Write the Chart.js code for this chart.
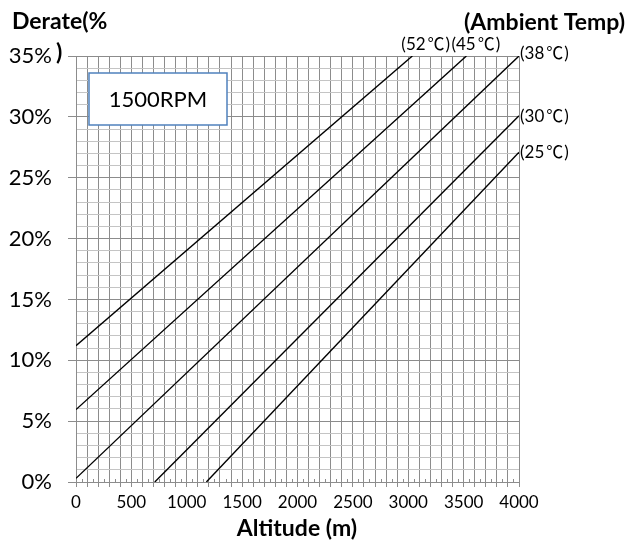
<!DOCTYPE html>
<html>
<head>
<meta charset="utf-8">
<script src="https://cdn.jsdelivr.net/npm/chart.js@4"></script>
<style>
html,body{margin:0;padding:0;background:#fff;}
#wrap{width:627px;height:541px;position:relative;}
</style>
</head>
<body>
<div id="wrap"><canvas id="c" width="627" height="541"></canvas></div>
<script>
// ---- data ----
const tempLabels = ['(52℃)', '(45℃)', '(38℃)', '(30℃)', '(25℃)'];
const startAltitude = [0, 0, 0, 711, 1177];
const startDerate = [11.2, 5.95, 0.3, 0, 0];
const endAltitude = [3037, 3525, 4000, 4000, 4000];
const endDerate = [35, 35, 35, 30.1, 27.1];
const xTickLabels = ['0', '500', '1000', '1500', '2000', '2500', '3000', '3500', '4000'];
const yTickLabels = ['0%', '5%', '10%', '15%', '20%', '25%', '30%', '35%'];
const speedLabel = '1500RPM';
const yTitle = 'Derate(%';
const xTitle = 'Altitude (m)';
const legendTitle = '(Ambient Temp)';

const FONT = "Lato, \"Noto Sans CJK JP\", sans-serif";
const CJK = "\"Noto Sans CJK JP\", \"Noto Sans CJK SC\", sans-serif";

const datasets = tempLabels.map((t, i) => ({
  label: t,
  data: [{x: startAltitude[i], y: startDerate[i]}, {x: endAltitude[i], y: endDerate[i]}],
  borderColor: '#000',
  borderWidth: 1.4,
  pointRadius: 0,
  fill: false,
  tension: 0
}));

function drawTempLabel(ctx, text, x, y) {
  // split "(52℃)" into "(52", "℃", ")" so the degree sign uses the CJK font
  const k = text.indexOf('℃');
  const head = k >= 0 ? text.slice(0, k) : text;
  const deg = k >= 0 ? '℃' : '';
  const tail = k >= 0 ? text.slice(k + 1) : '';
  ctx.font = '17px ' + FONT;
  ctx.fillText(head, x, y);
  let cx = x + ctx.measureText(head).width + 2;
  if (deg) {
    ctx.font = '17px ' + CJK;
    ctx.fillText(deg, cx, y);
    cx += ctx.measureText(deg).width + 1;
  }
  ctx.font = '17px ' + FONT;
  ctx.fillText(tail, cx, y);
}

const annotations = {
  id: 'annotations',
  beforeDatasetsDraw(chart) {
    const ctx = chart.ctx;
    const xs = chart.scales.x;
    const ca = chart.chartArea;
    ctx.save();
    ctx.strokeStyle = '#8c8c8c';
    ctx.lineWidth = 1;
    for (let v = 50; v < 4000; v += 100) {
      const px = Math.round(xs.getPixelForValue(v)) + 0.5;
      ctx.beginPath();
      ctx.moveTo(px, ca.bottom);
      ctx.lineTo(px, ca.bottom - 3);
      ctx.stroke();
    }
    ctx.restore();
  },
  afterDraw(chart) {
    const ctx = chart.ctx;
    const ca = chart.chartArea;
    ctx.save();
    // speed box
    const bx = ca.left + 13, by = ca.top + 17, bw = 138, bh = 52;
    ctx.fillStyle = '#fff';
    ctx.fillRect(bx, by, bw, bh);
    ctx.strokeStyle = '#4f81bd';
    ctx.lineWidth = 1.5;
    ctx.strokeRect(bx, by, bw, bh);
    ctx.fillStyle = '#000';
    ctx.font = '22px ' + FONT;
    ctx.textAlign = 'center';
    ctx.textBaseline = 'middle';
    ctx.fillText(speedLabel, bx + bw / 2, by + bh / 2 + 1);

    // titles
    ctx.textBaseline = 'alphabetic';
    ctx.font = 'bold 23px ' + FONT;
    ctx.textAlign = 'left';
    ctx.fillText(yTitle, 12, 29);
    ctx.fillText(')', 56, 60);
    ctx.textAlign = 'right';
    ctx.fillText(legendTitle, 625, 30);
    ctx.textAlign = 'center';
    ctx.fillText(xTitle, 297, 536);

    // temperature labels at line ends
    ctx.textAlign = 'left';
    const offs = [[-11, -6], [-15, -6], [1, 3], [1, 6], [1, 6]];
    tempLabels.forEach((t, i) => {
      const pt = chart.getDatasetMeta(i).data[1];
      drawTempLabel(ctx, t, pt.x + offs[i][0], pt.y + offs[i][1]);
    });
    ctx.restore();
  }
};

new Chart(document.getElementById('c'), {
  type: 'line',
  data: { datasets },
  options: {
    responsive: false,
    animation: false,
    events: [],
    layout: { padding: { left: 0, top: 56, right: 108, bottom: 0 } },
    plugins: { legend: { display: false }, tooltip: { enabled: false }, title: { display: false } },
    scales: {
      x: {
        type: 'linear',
        min: 0, max: 4000,
        afterFit(s) { s.height = 59; },
        afterBuildTicks(s) { const t = []; for (let v = 0; v <= 4000; v += 100) t.push({value: v}); s.ticks = t; },
        ticks: {
          autoSkip: false,
          maxRotation: 0,
          color: '#000',
          font: { family: FONT, size: 17 },
          padding: 5,
          callback(v) { return v % 500 === 0 ? xTickLabels[v / 500] : ''; }
        },
        grid: {
          color: '#8c8c8c',
          lineWidth: 1,
          tickLength: 5,
          tickColor: '#8c8c8c'
        },
        border: { color: '#8c8c8c', width: 1 }
      },
      y: {
        type: 'linear',
        min: 0, max: 35,
        afterFit(s) { s.width = 76; },
        afterBuildTicks(s) { const t = []; for (let v = 0; v <= 35; v += 1) t.push({value: v}); s.ticks = t; },
        ticks: {
          autoSkip: false,
          color: '#000',
          font: { family: FONT, size: 22 },
          padding: 16,
          callback(v) { return v % 5 === 0 ? yTickLabels[v / 5] : ''; }
        },
        grid: {
          color: (c) => (c.tick && c.tick.value % 5 === 0) ? '#8c8c8c' : '#c4c4c4',
          lineWidth: 1,
          tickLength: 8,
          tickColor: (c) => (c.tick && c.tick.value % 5 === 0) ? '#8c8c8c' : 'rgba(0,0,0,0)'
        },
        border: { color: '#8c8c8c', width: 1 }
      }
    }
  },
  plugins: [annotations]
});
</script>
</body>
</html>
